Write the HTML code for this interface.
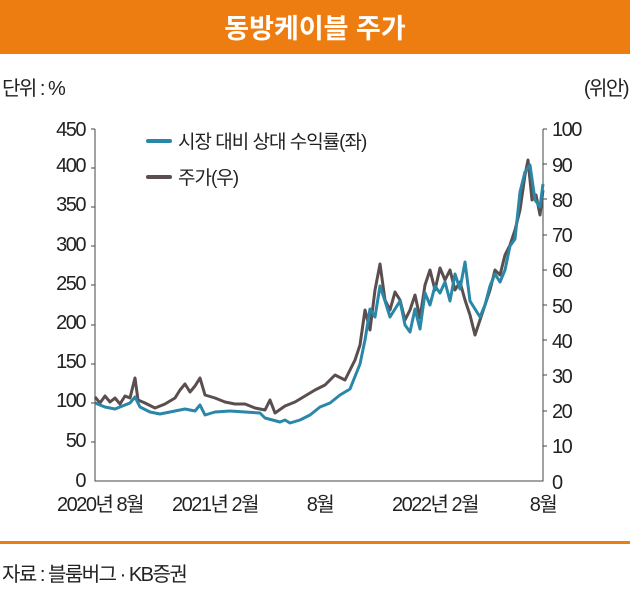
<!DOCTYPE html>
<html><head><meta charset="utf-8"><style>
body{margin:0;background:#fff;width:630px;height:591px;overflow:hidden;font-family:"Liberation Sans","Noto Sans CJK KR",sans-serif}
</style></head><body>
<svg width="630" height="591" viewBox="0 0 630 591" xmlns="http://www.w3.org/2000/svg" font-family="Liberation Sans, Noto Sans CJK KR, sans-serif">
<rect x="0" y="0" width="630" height="54" fill="#ee7d11"/>
<text x="315" y="38" text-anchor="middle" fill="#fff" font-size="27" font-weight="bold">동방케이블 주가</text>
<g fill="#222" font-size="20" letter-spacing="-1.5">
<text x="2" y="95">단위 : %</text>
<text x="628" y="95" text-anchor="end">(위안)</text>
<g text-anchor="end">
<text x="85" y="136">450</text><text x="85" y="172">400</text><text x="85" y="211">350</text><text x="85" y="251">300</text><text x="85" y="290">250</text><text x="85" y="329">200</text><text x="85" y="368">150</text><text x="85" y="407">100</text><text x="85" y="447">50</text><text x="85" y="487">0</text>
</g>
<g text-anchor="start">
<text x="552" y="136">100</text><text x="552" y="172">90</text><text x="552" y="207">80</text><text x="552" y="242">70</text><text x="552" y="277">60</text><text x="552" y="313">50</text><text x="552" y="348">40</text><text x="552" y="383">30</text><text x="552" y="418">20</text><text x="552" y="453">10</text><text x="552" y="489">0</text>
</g>
<g text-anchor="middle">
<text x="100" y="511">2020년 8월</text><text x="215" y="511">2021년 2월</text><text x="320" y="511">8월</text><text x="435" y="511">2022년 2월</text><text x="543" y="511">8월</text>
</g>
<text x="2" y="581">자료 : 블룸버그 · KB증권</text>
</g>
<rect x="0" y="541" width="630" height="3" fill="#ee7d11"/>
<g stroke="#444" stroke-width="1" fill="none">
<path d="M95 129V481H543V129"/>
<path d="M91 129H95M91 168H95M91 207H95M91 246H95M91 285H95M91 325H95M91 364H95M91 403H95M91 442H95"/>
<path d="M543 129H547M543 164H547M543 199H547M543 235H547M543 270H547M543 305H547M543 340H547M543 375H547M543 411H547M543 446H547"/>
</g>
<g stroke-width="4" stroke-linecap="round">
<line x1="148" y1="141" x2="170" y2="141" stroke="#2a87a8"/>
<line x1="148" y1="177" x2="170" y2="177" stroke="#5a4e4e"/>
</g>
<text x="178" y="148" font-size="19" fill="#222" letter-spacing="-1">시장 대비 상대 수익률(좌)</text>
<text x="178" y="184" font-size="19" fill="#222" letter-spacing="-1">주가(우)</text>
<polyline fill="none" stroke="#5a4e4e" stroke-width="3" stroke-linejoin="round" points="95,397 100,403 105,396 110,402 115,398 120,404 125,396 130,398 135,378 138,400 145,403 155,408 165,404 175,398 180,390 185,384 190,392 195,386 200,378 205,395 215,398 225,402 235,404 245,404 255,408 265,410 270,400 275,413 285,406 295,402 305,396 315,390 325,385 335,375 345,380 355,360 360,345 365,310 370,330 375,290 380,264 385,300 390,310 395,292 400,300 405,320 410,310 415,295 420,318 425,285 430,270 435,290 440,268 445,280 450,270 455,290 460,282 465,300 470,315 475,335 480,320 485,305 490,290 495,270 500,275 505,255 510,245 515,230 520,210 525,175 528,160 532,200 536,195 540,215 543,190"/>
<polyline fill="none" stroke="#2a87a8" stroke-width="3" stroke-linejoin="round" points="95,403 105,407 115,409 130,403 135,397 140,407 150,412 160,414 175,411 185,409 195,411 200,405 205,415 215,412 230,411 245,412 260,413 265,418 280,422 285,420 290,423 300,420 310,415 320,407 330,403 340,395 350,389 360,364 365,340 370,309 375,317 380,286 385,301 390,317 400,301 405,325 410,332 415,309 420,329 425,293 430,305 435,286 440,293 445,282 450,301 455,274 460,289 465,262 470,301 475,309 480,317 485,305 490,286 495,274 500,282 505,270 510,246 515,239 520,192 525,172 530,165 535,200 540,207 543,184"/>
</svg>
</body></html>
